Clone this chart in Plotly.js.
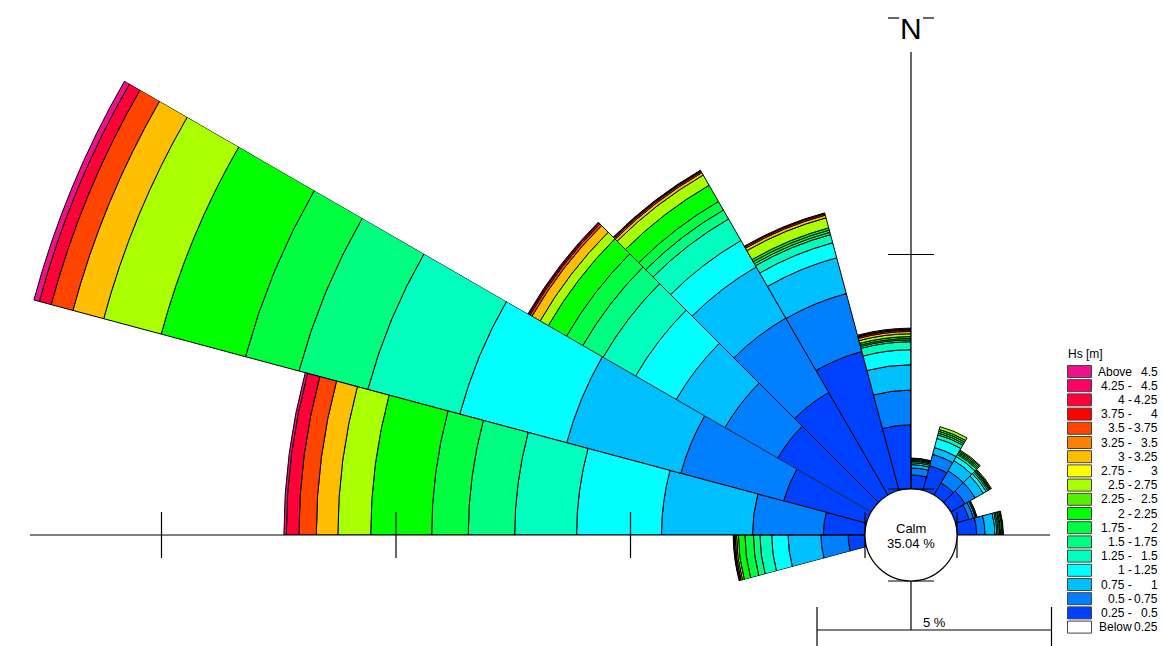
<!DOCTYPE html>
<html><head><meta charset="utf-8">
<script src="https://cdn.plot.ly/plotly-3.0.1.min.js"></script>
<style>html,body{margin:0;padding:0;background:#fff;}#chart{width:1164px;height:646px;}</style>
</head><body><div id="chart"></div>
<script>
// ---------------- DATA ----------------
// direction bin centres (compass degrees, 15 degree bins)
const directions = [262.5, 277.5, 292.5, 307.5, 322.5, 337.5, 352.5, 7.5, 22.5, 37.5, 52.5, 67.5, 82.5];
// frequency of occurrence (%) per Hs class, one value per direction above
const hs_025_050 = [0.36, 0.89, 1.83, 2.30, 2.53, 3.07, 1.37, 0.30, 0.55, 0.30, 0.35, 0.30, 0.42];
const hs_050_075 = [0.58, 1.51, 2.27, 1.30, 1.83, 1.28, 0.74, 0.15, 0.25, 0.30, 0.25, 0.10, 0.18];
const hs_075_100 = [0.70, 1.94, 2.52, 1.20, 1.26, 0.79, 0.54, 0.07, 0.15, 0.25, 0.20, 0.04, 0.21];
const hs_100_125 = [0.35, 1.81, 2.36, 1.00, 0.65, 0.33, 0.32, 0.04, 0.20, 0.10, 0.07, 0.02, 0.04];
const hs_125_150 = [0.25, 1.32, 2.03, 0.80, 0.53, 0.18, 0.17, 0.03, 0.08, 0.05, 0.04, 0.01, 0.03];
const hs_150_175 = [0.14, 0.99, 1.52, 0.50, 0.22, 0.05, 0.04, 0.02, 0.04, 0.03, 0.03, 0.01, 0.03];
const hs_175_200 = [0.18, 0.78, 1.18, 0.40, 0.21, 0.05, 0.03, 0.02, 0.04, 0.03, 0.02, 0.00, 0.02];
const hs_200_225 = [0.14, 1.30, 1.86, 0.45, 0.40, 0.05, 0.04, 0.02, 0.04, 0.03, 0.02, 0.00, 0.03];
const hs_225_250 = [0, 0, 0, 0, 0, 0, 0, 0, 0, 0, 0, 0, 0];
const hs_250_275 = [0.04, 0.70, 1.27, 0.20, 0.25, 0.22, 0.06, 0.01, 0.06, 0.02, 0.02, 0.00, 0.02];
const hs_275_300 = [0, 0, 0, 0, 0, 0, 0, 0, 0, 0, 0, 0, 0];
const hs_300_325 = [0.03, 0.46, 0.68, 0.20, 0.06, 0.06, 0.05, 0, 0, 0, 0, 0, 0.01];
const hs_325_350 = [0, 0, 0, 0, 0, 0, 0, 0, 0, 0, 0, 0, 0];
const hs_350_375 = [0.02, 0.37, 0.48, 0.05, 0.03, 0.03, 0.03, 0, 0, 0, 0, 0, 0];
const hs_375_400 = [0, 0, 0, 0, 0, 0, 0, 0, 0, 0, 0, 0, 0];
const hs_400_425 = [0.01, 0.27, 0.26, 0.03, 0.02, 0.02, 0.02, 0, 0, 0, 0, 0, 0];
const hs_425_450 = [0, 0, 0, 0, 0, 0, 0, 0, 0, 0, 0, 0, 0];
const hs_above_450 = [0.01, 0.05, 0.12, 0.02, 0.01, 0.00, 0.02, 0, 0, 0, 0, 0, 0];
const calmPercent = 35.04;
const calmLabel = 'Calm';
// legend labels (top to bottom)
const legendLeft  = ['Above', '4.25 -', '4 -', '3.75 -', '3.5 -', '3.25 -', '3 -', '2.75 -', '2.5 -', '2.25 -', '2 -', '1.75 -', '1.5 -', '1.25 -', '1 -', '0.75 -', '0.5 -', '0.25 -', 'Below'];
const legendRight = ['4.5', '4.5', '4.25', '4', '3.75', '3.5', '3.25', '3', '2.75', '2.5', '2.25', '2', '1.75', '1.5', '1.25', '1', '0.75', '0.5', '0.25'];
const legendTitle = 'Hs [m]';
const scaleBarPercent = 5;
const axisTickPercents = [5, 10, 15];

// ---------------- STYLE / GEOMETRY ----------------
const classSeries = [hs_025_050, hs_050_075, hs_075_100, hs_100_125, hs_125_150, hs_150_175, hs_175_200, hs_200_225, hs_225_250, hs_250_275, hs_275_300, hs_300_325, hs_325_350, hs_350_375, hs_375_400, hs_400_425, hs_425_450, hs_above_450];
const classColors = ['#0040FF', '#0080FF', '#00BFFF', '#00FFFF', '#00FFBF', '#00FF80', '#00FF40', '#00FF00', '#55F000', '#AAFF00', '#FFFF00', '#FFBF00', '#FF8000', '#FF4400', '#FF0000', '#FF0038', '#FF0064', '#F0108C'];
const W = 1164, H = 646;
const CX = 911, CY = 535;          // centre of the rose (px)
const HOLE = 46;                    // calm circle radius (px)
const PX_PER_PCT = 46.9;            // radial scale (px per %)
const FONT = 'Arial, "Liberation Sans", sans-serif';

const px2x = x => x / W;
const px2y = y => 1 - y / H;

function sectorBBox(sector) {
  const rad = d => d * Math.PI / 180;
  const s0 = sector[0], s1 = sector[1];
  const arc = s1 - s0;
  const a0 = ((s0 % 360) + 360) % 360;
  const a1 = a0 + arc;
  const ax0 = Math.cos(rad(a0)), ay0 = Math.sin(rad(a0));
  const ax1 = Math.cos(rad(a1)), ay1 = Math.sin(rad(a1));
  let x0, y0, x1, y1;
  if ((a0 <= 90 && a1 >= 90) || (a0 > 90 && a1 >= 450)) y1 = 1;
  else if (ay0 <= 0 && ay1 <= 0) y1 = 0;
  else y1 = Math.max(ay0, ay1);
  if ((a0 <= 180 && a1 >= 180) || (a0 > 180 && a1 >= 540)) x0 = -1;
  else if (ax0 >= 0 && ax1 >= 0) x0 = 0;
  else x0 = Math.min(ax0, ax1);
  if ((a0 <= 270 && a1 >= 270) || (a0 > 270 && a1 >= 630)) y0 = -1;
  else if (ay0 >= 0 && ay1 >= 0) y0 = 0;
  else y0 = Math.min(ay0, ay1);
  if (a1 >= 360) x1 = 1;
  else if (ax0 <= 0 && ax1 <= 0) x1 = 0;
  else x1 = Math.max(ax0, ax1);
  return [x0, y0, x1, y1];
}
const clamp01 = v => Math.min(1, Math.max(0, v));

// sub-plots sharing the same centre and radial scale, each covering a wedge of directions
const groups = [
  {id: 'polar',  sector: [150, 180], test: d => d > 270 && d < 300},
  {id: 'polar2', sector: [90, 150],  test: d => d > 300 && d < 360},
  {id: 'polar3', sector: [180, 195], test: d => d > 255 && d < 270},
  {id: 'polar4', sector: [0, 90],    test: d => d > 0 && d < 90},
];

const traces = [];
const layout = {
  width: W, height: H, margin: {l: 0, r: 0, t: 0, b: 0},
  paper_bgcolor: '#fff', showlegend: false,
  font: {family: FONT, size: 12, color: '#000'},
  shapes: [], annotations: []
};

groups.forEach(g => {
  const idx = directions.map((d, i) => i).filter(i => g.test(directions[i]));
  let maxTot = 0;
  idx.forEach(i => { let s = 0; classSeries.forEach(c => s += c[i]); maxTot = Math.max(maxTot, s); });
  const rmax = maxTot + 0.04;
  const R = HOLE + rmax * PX_PER_PCT;
  const b = sectorBBox(g.sector);
  const xl = CX + R * b[0], xr = CX + R * b[2];
  const yt = CY - R * b[3], yb = CY - R * b[1];
  layout[g.id] = {
    domain: {x: [clamp01(xl / W), clamp01(xr / W)], y: [clamp01(1 - yb / H), clamp01(1 - yt / H)]},
    sector: g.sector,
    hole: HOLE / R,
    bgcolor: 'rgba(0,0,0,0)',
    barmode: 'stack', bargap: 0,
    radialaxis: {range: [0, rmax], visible: false, showgrid: false, showline: false, showticklabels: false, ticks: ''},
    angularaxis: {rotation: 90, direction: 'clockwise', visible: false, showgrid: false, showline: false, showticklabels: false, ticks: ''}
  };
  classSeries.forEach((series, k) => {
    const th = [], rr = [];
    idx.forEach(i => { if (series[i] > 0) { th.push(directions[i]); rr.push(series[i]); } });
    if (!th.length) return;
    traces.push({
      type: 'barpolar', subplot: g.id, theta: th, r: rr, width: th.map(() => 15),
      marker: {color: classColors[k], line: {color: '#000', width: 1}},
      hoverinfo: 'skip', showlegend: false
    });
  });
});

// ---------------- axes / decorations ----------------
const S = layout.shapes, A = layout.annotations;
function line(x0, y0, x1, y1, w) {
  S.push({type: 'line', xref: 'paper', yref: 'paper', x0: px2x(x0), y0: px2y(y0), x1: px2x(x1), y1: px2y(y1),
          line: {color: '#000', width: w || 1.2}, layer: 'above'});
}
const rpx = p => HOLE + p * PX_PER_PCT;
const TK = 23;
// horizontal axis
line(30, CY, CX - HOLE, CY);
line(CX + HOLE, CY, 1050, CY);
// vertical axis
line(CX, 52, CX, CY - HOLE);
line(CX, CY + HOLE, CX, 630);
// zero ticks around the calm circle
line(CX - HOLE, CY - TK, CX - HOLE, CY + TK);
line(CX + HOLE, CY - TK, CX + HOLE, CY + TK);
line(CX - TK, CY - HOLE, CX + TK, CY - HOLE);
line(CX - TK, CY + HOLE, CX + TK, CY + HOLE);
// ticks on the west axis
axisTickPercents.forEach(p => line(CX - rpx(p), CY - TK, CX - rpx(p), CY + TK));
// ticks on the north axis
line(CX - TK, CY - rpx(5), CX + TK, CY - rpx(5));
const yN = CY - rpx(10) - 2;
line(CX - TK, yN, CX - 12, yN);
line(CX + 12, yN, CX + TK, yN);
A.push({xref: 'paper', yref: 'paper', x: px2x(CX), y: px2y(28), text: 'N', showarrow: false,
        xanchor: 'center', yanchor: 'middle', font: {family: FONT, size: 30, color: '#000'}});
// scale bar
const sbL = CX - 94, sbR = sbL + scaleBarPercent * PX_PER_PCT;
line(sbL, 630, sbR, 630);
line(sbL, 607, sbL, 646);
line(sbR, 607, sbR, 646);
A.push({xref: 'paper', yref: 'paper', x: px2x(934), y: px2y(622), text: scaleBarPercent + ' %', showarrow: false,
        xanchor: 'center', yanchor: 'middle', font: {family: FONT, size: 13, color: '#000'}});
// calm circle
S.push({type: 'circle', xref: 'paper', yref: 'paper', x0: px2x(CX - HOLE), x1: px2x(CX + HOLE),
        y0: px2y(CY + HOLE), y1: px2y(CY - HOLE), fillcolor: '#fff', line: {color: '#000', width: 1.2}, layer: 'above'});
A.push({xref: 'paper', yref: 'paper', x: px2x(CX), y: px2y(528), text: calmLabel, showarrow: false,
        xanchor: 'center', yanchor: 'middle', font: {family: FONT, size: 13, color: '#000'}});
A.push({xref: 'paper', yref: 'paper', x: px2x(CX), y: px2y(543.5), text: calmPercent.toFixed(2) + ' %', showarrow: false,
        xanchor: 'center', yanchor: 'middle', font: {family: FONT, size: 13, color: '#000'}});

// ---------------- legend (drawn) ----------------
A.push({xref: 'paper', yref: 'paper', x: px2x(1066), y: px2y(354), text: legendTitle, showarrow: false,
        xanchor: 'left', yanchor: 'middle', font: {family: FONT, size: 12, color: '#000'}});
const legendColors = classColors.slice().reverse().concat(['#FFFFFF']);
const ROW0 = 371.5, PITCH = 14.2;
legendLeft.forEach((lab, i) => {
  const yc = ROW0 + i * PITCH;
  S.push({type: 'rect', xref: 'paper', yref: 'paper', x0: px2x(1067.5), x1: px2x(1091.5), y0: px2y(yc + 6), y1: px2y(yc - 6),
          fillcolor: legendColors[i], line: {color: '#444', width: 1}, layer: 'above'});
  A.push({xref: 'paper', yref: 'paper', x: px2x(1134), y: px2y(yc), text: lab, showarrow: false,
          xanchor: 'right', yanchor: 'middle', font: {family: FONT, size: 12, color: '#000'}});
  A.push({xref: 'paper', yref: 'paper', x: px2x(1160), y: px2y(yc), text: legendRight[i], showarrow: false,
          xanchor: 'right', yanchor: 'middle', font: {family: FONT, size: 12, color: '#000'}});
});

Plotly.newPlot('chart', traces, layout, {staticPlot: true, displayModeBar: false});
</script>
</body></html>
